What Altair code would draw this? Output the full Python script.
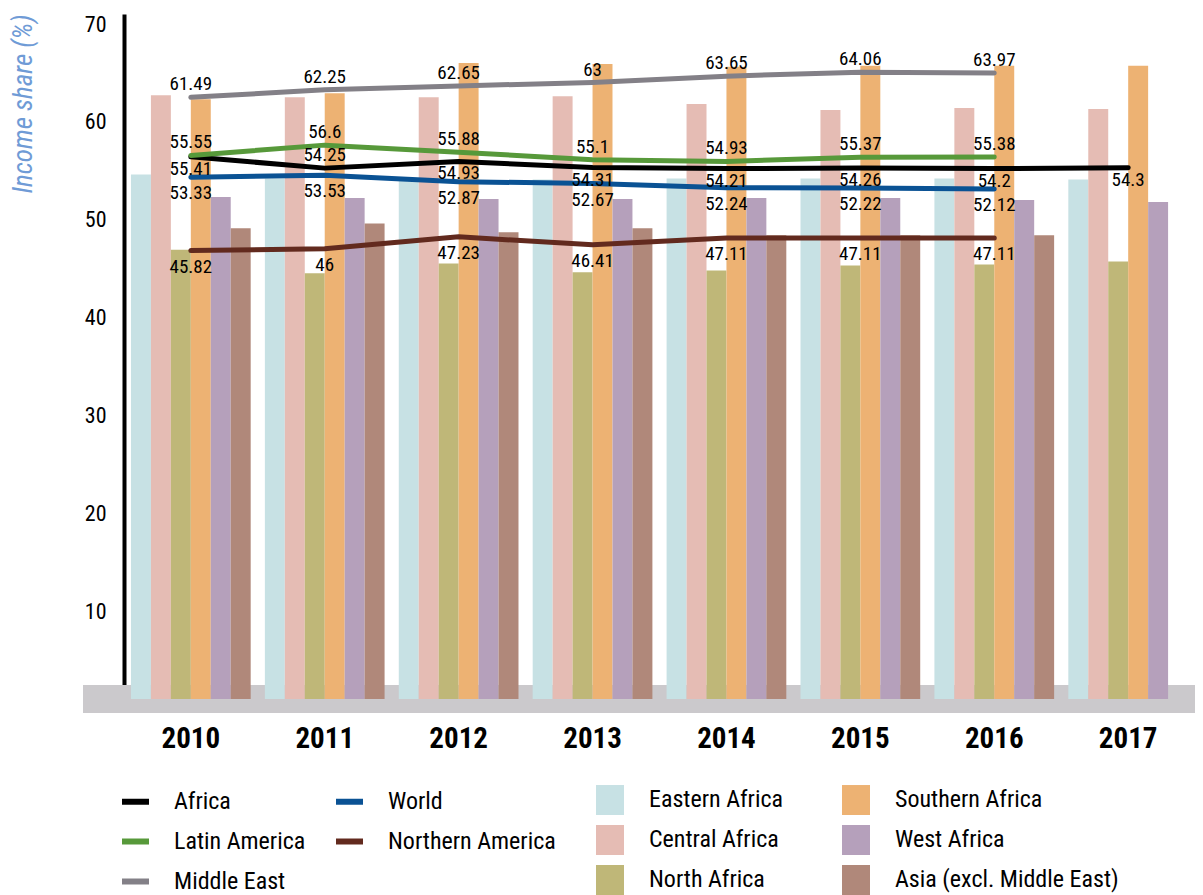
import altair as alt
import pandas as pd

FONT = "Noto Sans Condensed, Roboto Condensed, Roboto"

years = ["2010", "2011", "2012", "2013", "2014", "2015", "2016", "2017"]

# Bar series (order of bars inside each year group)
bar_series = ["Eastern Africa", "Central Africa", "North Africa",
              "Southern Africa", "West Africa", "Asia (excl. Middle East)"]
eastern = [53.6, 53.2, 53.0, 53.1, 53.2, 53.2, 53.2, 53.1]
central = [61.7, 61.5, 61.5, 61.6, 60.8, 60.2, 60.4, 60.3]
north = [45.9, 43.5, 44.5, 43.6, 43.8, 44.3, 44.4, 44.7]
southern = [61.3, 61.9, 65.0, 64.9, 64.6, 64.7, 64.7, 64.7]
west = [51.3, 51.2, 51.1, 51.1, 51.2, 51.2, 51.0, 50.8]
asia = [48.1, 48.6, 47.7, 48.1, 47.4, 47.4, 47.4, None]
bar_colors = ["#c7e1e4", "#e5bcb4", "#bfb778", "#edb273", "#b5a0bb", "#b0887a"]

# Line series (legend is filled column by column)
line_series = ["Africa", "Latin America", "Middle East", "World", "Northern America"]
africa = [55.41, 54.25, 54.93, 54.31, 54.21, 54.26, 54.2, 54.3]
latin = [55.55, 56.6, 55.88, 55.1, 54.93, 55.37, 55.38, None]
mideast = [61.49, 62.25, 62.65, 63, 63.65, 64.06, 63.97, None]
world = [53.33, 53.53, 52.87, 52.67, 52.24, 52.22, 52.12, None]
namerica = [45.82, 46, 47.23, 46.41, 47.11, 47.11, 47.11, None]
line_colors = ["#000000", "#57993a", "#838087", "#0a5294", "#622a1e"]

bar_rows = []
for name, vals in zip(bar_series, [eastern, central, north, southern, west, asia]):
    for yr, v in zip(years, vals):
        if v is not None:
            bar_rows.append({"year": yr, "series": name, "value": v})
bars_df = pd.DataFrame(bar_rows)

line_rows = []
for name, vals in zip(line_series, [africa, latin, mideast, world, namerica]):
    for yr, v in zip(years, vals):
        if v is not None:
            if name in ("Middle East", "Latin America") or (name == "Africa" and yr == "2011"):
                place = "above"
            elif name == "Africa":
                place = "near"
            else:
                place = "below"
            line_rows.append({"year": yr, "series": name, "value": v,
                              "label": f"{v:g}", "place": place})
lines_df = pd.DataFrame(line_rows)

W, H = 1071, 685

xscale = alt.Scale(domain=years, paddingInner=0.106, paddingOuter=0.052)
yscale = alt.Scale(domain=[0, 70], nice=False, zero=True)

x_axis = alt.Axis(title=None, domain=False, ticks=False, grid=False, labelAngle=0,
                  labelFont=FONT, labelFontSize=29, labelFontWeight="bold",
                  labelColor="black", labelPadding=25, labelBaseline="top")
y_axis = alt.Axis(title="Income share (%)", values=[10, 20, 30, 40, 50, 60, 70],
                  grid=False, ticks=False, domainColor="black", domainWidth=4,
                  labelFont=FONT, labelFontSize=22, labelColor="black",
                  labelBaseline="top", labelPadding=18,
                  titleFont=FONT, titleFontSize=27, titleFontStyle="italic",
                  titleFontWeight="normal", titleColor="#6f9bd6",
                  titleAngle=270, titleAlign="right", titleBaseline="middle",
                  titleX=-101, titleY=0)

x_enc = alt.X("year:N", scale=xscale, sort=years, axis=x_axis)
y_enc = alt.Y("value:Q", scale=yscale, axis=y_axis)

band = alt.Chart(pd.DataFrame({"k": [0]})).mark_rect(color="#cbc9cc").encode(
    x=alt.value(-41), x2=alt.value(W + 40),
    y=alt.datum(1.43, scale=yscale, axis=y_axis), y2=alt.datum(-1.43),
)

bars = alt.Chart(bars_df).mark_bar().encode(
    x=x_enc,
    xOffset=alt.XOffset("series:N", sort=bar_series,
                        scale=alt.Scale(domain=bar_series, paddingInner=0, paddingOuter=0)),
    y=y_enc,
    fill=alt.Fill("series:N",
                  scale=alt.Scale(domain=bar_series, range=bar_colors),
                  legend=alt.Legend(title=None, orient="none", legendX=472, legendY=772,
                                    columns=2, symbolType="M-1,-1.07H1V1.07H-1Z",
                                    symbolSize=784, symbolStrokeWidth=0, symbolOpacity=1,
                                    labelFont=FONT, labelFontSize=24, labelColor="black",
                                    labelOffset=25, columnPadding=58, rowPadding=10,
                                    padding=0, labelLimit=400)),
)

lines = alt.Chart(lines_df).mark_line(strokeWidth=5, strokeCap="round", strokeJoin="round").encode(
    x=x_enc,
    y=y_enc,
    stroke=alt.Stroke("series:N",
                      scale=alt.Scale(domain=line_series, range=line_colors),
                      legend=alt.Legend(title=None, orient="none", legendX=-5, legendY=771,
                                        columns=2, symbolType="stroke", symbolSize=729,
                                        symbolStrokeWidth=6,
                                        labelFont=FONT, labelFontSize=24, labelColor="black",
                                        labelOffset=22, columnPadding=18, rowPadding=11,
                                        padding=0, labelLimit=400)),
    detail="series:N",
)


def value_labels(place, dy):
    return alt.Chart(lines_df).transform_filter(f"datum.place == '{place}'").mark_text(
        font=FONT, fontSize=19, color="black", baseline="middle", align="center", dy=dy
    ).encode(x=x_enc, y=y_enc, text="label:N")


labels_above = value_labels("above", -13)
labels_near = value_labels("near", 12)
labels_below = value_labels("below", 16)

chart = alt.layer(band, bars, lines, labels_above, labels_near, labels_below).properties(
    width=W, height=H,
    autosize=alt.AutoSizeParams(type="none"),
    padding={"left": 116, "top": 6, "right": 0, "bottom": 196},
).configure(font=FONT).configure_view(stroke=None)

chart.save("out.html", embed_options={"renderer": "svg", "actions": False})
